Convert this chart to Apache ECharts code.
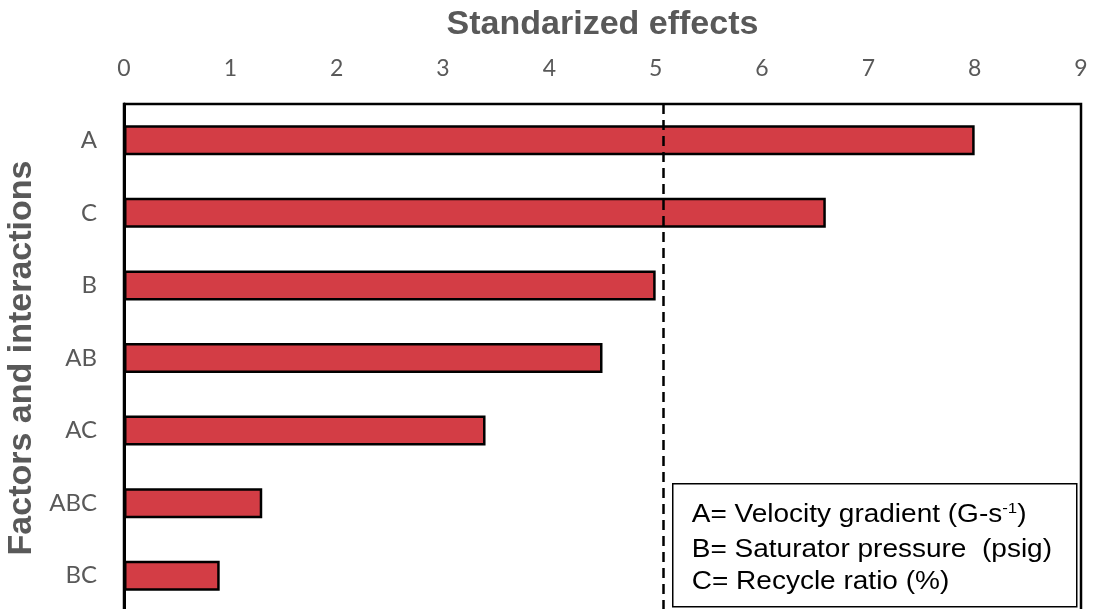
<!DOCTYPE html>
<html>
<head>
<meta charset="utf-8">
<script src="https://cdn.jsdelivr.net/npm/echarts@6/dist/echarts.min.js"></script>
<style>
html,body{margin:0;padding:0;background:#fff;}
#chart{width:1093px;height:609px;}
</style>
</head>
<body>
<div id="chart"></div>
<script>
const categories = ['A', 'C', 'B', 'AB', 'AC', 'ABC', 'BC'];
const effects = [8.0, 6.6, 5.0, 4.5, 3.4, 1.3, 0.9];
const criticalValue = 5.07;
const xTicks = [0, 1, 2, 3, 4, 5, 6, 7, 8, 9];
const legendLines = ['A= Velocity gradient (G-s', 'B= Saturator pressure  (psig)', 'C= Recycle ratio (%)'];

const chart = echarts.init(document.getElementById('chart'), null, {renderer: 'canvas'});
chart.setOption({
  animation: false,
  backgroundColor: '#ffffff',
  grid: {
    left: 124, right: 12, top: 104, height: 508,
    containLabel: false, outerBoundsMode: 'none',
    show: true, borderColor: '#000', borderWidth: 2.5, backgroundColor: 'transparent'
  },
  xAxis: {
    type: 'value', position: 'top',
    min: xTicks[0], max: xTicks[xTicks.length - 1], interval: 1,
    name: 'Standarized effects', nameLocation: 'middle', nameGap: 62,
    nameTextStyle: {fontFamily: 'Liberation Sans', fontWeight: 'bold', fontSize: 34, color: '#595959'},
    axisLine: {show: false}, axisTick: {show: false}, splitLine: {show: false},
    axisLabel: {margin: 24, fontFamily: 'Lato', fontSize: 23, color: '#595959'}
  },
  yAxis: {
    type: 'category', data: categories, inverse: true,
    name: 'Factors and interactions', nameLocation: 'middle', nameGap: 80, nameRotate: 90,
    nameTextStyle: {fontFamily: 'Liberation Sans', fontWeight: 'bold', fontSize: 34, color: '#595959'},
    axisLine: {show: true, lineStyle: {color: '#000', width: 3}},
    axisTick: {show: false},
    axisLabel: {margin: 27, fontFamily: 'Lato', fontSize: 24, color: '#595959'}
  },
  series: [{
    type: 'bar', data: effects, barWidth: 30,
    itemStyle: {color: '#D33D45', borderColor: '#000', borderWidth: 2.5},
    markLine: {
      silent: true, symbol: 'none', label: {show: false},
      lineStyle: {color: '#000', type: [10, 6], width: 2.5},
      data: [{xAxis: criticalValue}]
    }
  }],
  graphic: [{
    type: 'group', left: 672, top: 483,
    children: [
      {type: 'rect', shape: {x: 0, y: 0, width: 404, height: 123},
       style: {fill: '#fff', stroke: '#000', lineWidth: 1.5}},
      {type: 'text', x: 19, y: 31, scaleX: 1.12,
       style: {text: '{m|' + legendLines[0] + '}{s|-1}{m|)}', verticalAlign: 'middle',
         rich: {m: {fontFamily: 'Liberation Sans', fontSize: 25, color: '#000'},
                s: {fontFamily: 'Liberation Sans', fontSize: 15, color: '#000', verticalAlign: 'top', padding: [0, 0, 12, 0]}}}},
      {type: 'text', x: 19, y: 66, scaleX: 1.12,
       style: {text: legendLines[1], fontFamily: 'Liberation Sans', fontSize: 25, fill: '#000', verticalAlign: 'middle'}},
      {type: 'text', x: 19, y: 98, scaleX: 1.12,
       style: {text: legendLines[2], fontFamily: 'Liberation Sans', fontSize: 25, fill: '#000', verticalAlign: 'middle'}}
    ]
  }]
});
</script>
</body>
</html>
